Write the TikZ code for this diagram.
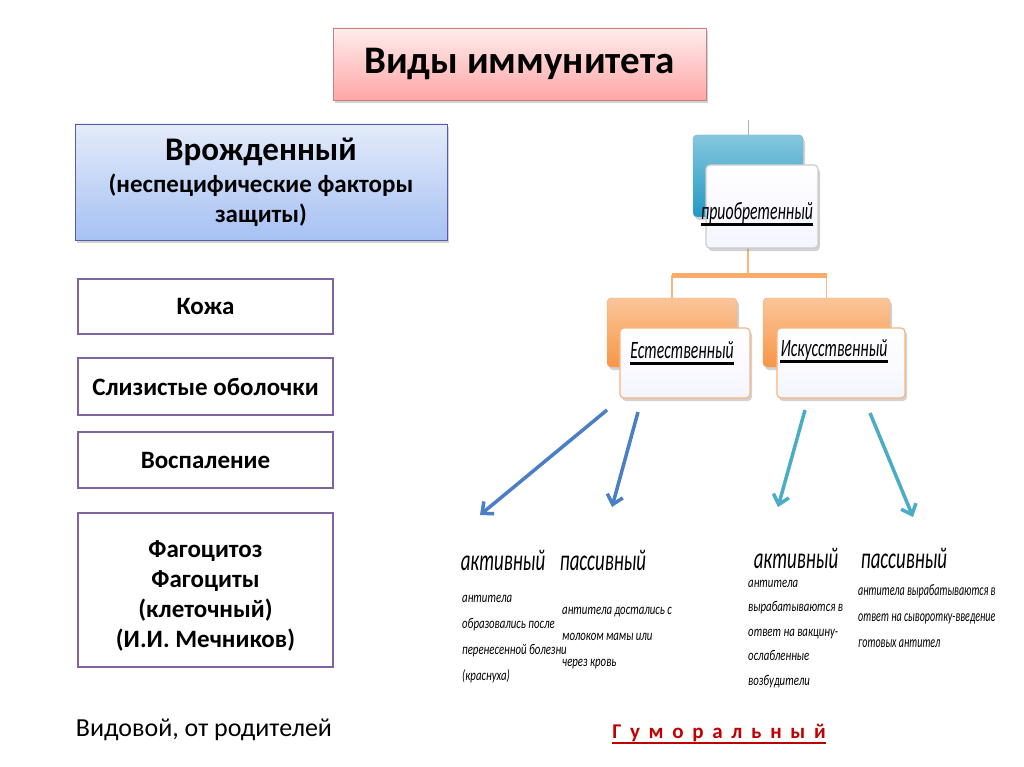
\documentclass[tikz,border=0pt]{standalone}
\usepackage{fontspec}
\setmainfont{Carlito}
\newfontfamily\narrowfont[FakeStretch=0.72]{Carlito}
\newfontfamily\condensedfont[FakeStretch=0.63]{Carlito}
\usetikzlibrary{positioning,shadows,arrows.meta}

\definecolor{factorpurple}{HTML}{8064A2}
\definecolor{arrowblue}{HTML}{4A7EC6}
\definecolor{arrowteal}{HTML}{4BACC6}
\definecolor{boxorange}{HTML}{F79646}
\definecolor{acqteal}{HTML}{2299C4}
\definecolor{innatetop}{HTML}{E4EBFA}
\definecolor{innatebottom}{HTML}{A6C1F3}
\definecolor{humoralred}{HTML}{C00000}

\newcommand{\widespace}{\spaceskip=8.7pt\relax}

\tikzset{
  softshadow/.style={drop shadow={opacity=0.35, shadow xshift=2pt, shadow yshift=-3pt}},
  titlebox/.style={draw=red!40!gray!70, top color=red!7, bottom color=red!35, softshadow,
    minimum width=373pt, minimum height=72pt, font=\bfseries\fontsize{39}{44}\selectfont},
  innatebox/.style={draw=blue!30!gray, top color=innatetop, bottom color=innatebottom, softshadow,
    minimum width=372pt, minimum height=116pt, align=center, font=\bfseries\fontsize{25}{30}\selectfont},
  factorbox/.style={draw=factorpurple, line width=1.5pt, fill=white, minimum width=255pt,
    align=center, font=\bfseries\fontsize{25}{30}\selectfont},
  backbox/.style={rounded corners=4pt, draw=#1!80!black!60, top color=#1!55, bottom color=#1, softshadow},
  frontbox/.style={rounded corners=4pt, draw=#1, line width=1.2pt, top color=white, bottom color=blue!4, softshadow},
  kindtext/.style={inner sep=0pt, font=\condensedfont\itshape\fontsize{25}{28}\selectfont},
  typetext/.style={inner sep=0pt, font=\condensedfont\itshape\fontsize{30}{34}\selectfont},
  notetext/.style={inner sep=0pt, anchor=north west, align=left, font=\narrowfont\itshape\fontsize{15}{26}\selectfont},
  link/.style={line width=1.5pt, boxorange!70},
  barline/.style={line width=5pt, boxorange!80},
  bluearrow/.style={line width=3.5pt, arrowblue, -{Straight Barb[length=9pt,width=16pt]}},
  tealarrow/.style={line width=3.5pt, arrowteal, -{Straight Barb[length=9pt,width=16pt]}}
}

\begin{document}
\begin{tikzpicture}[x=1pt, y=-1pt]
    \useasboundingbox (0,0) rectangle (1024,767);
    \fill[white] (0,0) rectangle (1024,767);

    % Title
    \node[titlebox] (title) at (519.5,64) {Виды иммунитета};

    % Innate immunity
    \node[innatebox] (innate) at (261,182) {{\fontsize{33}{36}\selectfont Врожденный}\\[2pt]
      (неспецифические факторы\\ защиты)};

    % Nonspecific factors
    \node[factorbox, minimum height=55pt] (skin) at (205.5,306.5) {Кожа};
    \node[factorbox, minimum height=57pt] (mucosa) at (205.5,386.5) {Слизистые оболочки};
    \node[factorbox, minimum height=56pt] (inflam) at (205.5,460) {Воспаление};
    \node[factorbox, minimum height=154pt] (phago) at (205.5,590) {\rule{0pt}{29pt}Фагоцитоз\\ Фагоциты\\ (клеточный)\\ (И.И. Мечников)};

    \node[font=\fontsize{26}{30}\selectfont] (species) at (204,730) {Видовой, от родителей};

    % Acquired immunity
    \draw[gray!60, line width=1pt] (748,120) -- (748,135);
    \node[backbox=acqteal, minimum width=110pt, minimum height=82pt] (acqback) at (748,176) {};
    \node[backbox=boxorange, minimum width=130pt, minimum height=69pt] (natback) at (672,332.5) {};
    \node[backbox=boxorange, minimum width=127pt, minimum height=69pt] (artback) at (826.5,332.5) {};

    \path (acqback.south) ++(0,58) coordinate (fork);
    \draw[link] (acqback.south) -- (fork);
    \draw[link] (natback.north |- fork) -- (natback.north);
    \draw[link] (artback.north |- fork) -- (artback.north);
    \draw[barline] (natback.north |- fork) -- (artback.north |- fork);

    \node[frontbox=gray!40, minimum width=112pt, minimum height=83pt] (acqfront) at (762,206.5) {};
    \node[frontbox=boxorange!70, minimum width=130pt, minimum height=70pt] (natfront) at (685,363) {};
    \node[frontbox=boxorange!70, minimum width=128pt, minimum height=70pt] (artfront) at (841,363) {};

    \node[kindtext] (acqtext) at (757,213) {приобретенный};
    \node[kindtext] (nattext) at (682,350) {Естественный};
    \node[kindtext] (arttext) at (834,350) {Искусственный};
    \draw[line width=2.5pt] ([yshift=-5pt]acqtext.base west) -- ([yshift=-5pt]acqtext.base east);
    \draw[line width=2.5pt] ([yshift=-5pt]nattext.base west) -- ([yshift=-5pt]nattext.base east);
    \draw[line width=2.5pt] ([yshift=-5pt]arttext.base west) -- ([yshift=-5pt]arttext.base east);

    % Arrows to the kinds
    \coordinate (a1s) at (607,410);
    \coordinate (a1e) at (480,515);
    \coordinate (a2s) at (638,412);
    \coordinate (a2e) at (612,507);
    \coordinate (a3s) at (805,410);
    \coordinate (a3e) at (778,507);
    \coordinate (a4s) at (870,413);
    \coordinate (a4e) at (913,517);
    \draw[bluearrow] (a1s) -- (a1e);
    \draw[bluearrow] (a2s) -- (a2e);
    \draw[tealarrow] (a3s) -- (a3e);
    \draw[tealarrow] (a4s) -- (a4e);

    \node[typetext] (natact) at (503,560) {активный};
    \node[typetext] (natpas) at (603,560) {пассивный};
    \node[typetext] (artact) at (796,558) {активный};
    \node[typetext] (artpas) at (904,558) {пассивный};

    \node[notetext] (natactnote) at (462,595) {антитела\\ образовались после\\ перенесенной болезни\\ (краснуха)};
    \node[notetext] (natpasnote) at (562,607) {антитела достались с\\ молоком мамы или\\ через кровь};
    \node[notetext, font=\narrowfont\itshape\fontsize{15}{24.5}\selectfont] (artactnote) at (748,580) {антитела\\ вырабатываются в\\ ответ на вакцину-\\ ослабленные\\ возбудители};
    \node[notetext, font=\condensedfont\itshape\fontsize{16}{26}\selectfont] (artpasnote) at (858,584) {антитела вырабатываются в\\ ответ на сыворотку-введение\\ готовых антител};

    % Humoral
    \node[inner sep=0pt, text=humoralred, font=\bfseries\fontsize{21}{26}\selectfont\widespace] (humoral) at (719,733) {Г у м о р а л ь н ы й};
    \draw[humoralred, line width=2pt] ([yshift=-4pt]humoral.base west) -- ([yshift=-4pt]humoral.base east);
\end{tikzpicture}
\end{document}
